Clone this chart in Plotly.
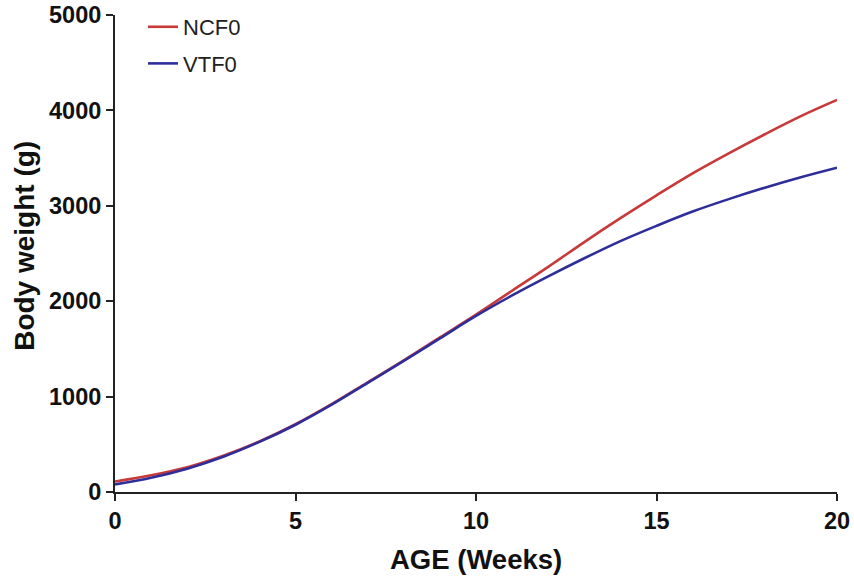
import plotly.graph_objects as go

weeks = list(range(0, 21))
ncf0 = [110, 175, 260, 380, 530, 710, 920, 1150, 1380, 1620, 1860, 2110, 2360,
        2620, 2870, 3110, 3340, 3550, 3750, 3940, 4110]
vtf0 = [80, 150, 245, 370, 525, 705, 915, 1145, 1375, 1610, 1845, 2060, 2260,
        2450, 2630, 2790, 2940, 3070, 3190, 3300, 3400]

x_ticks = [0, 5, 10, 15, 20]
y_ticks = [0, 1000, 2000, 3000, 4000, 5000]
x_title = "AGE (Weeks)"
y_title = "Body weight (g)"

fig = go.Figure()
fig.add_trace(go.Scatter(x=weeks, y=ncf0, mode="lines", name="NCF0", legendgroup="a",
                         line=dict(color="#C8393A", width=2.6, shape="spline")))
fig.add_trace(go.Scatter(x=weeks, y=vtf0, mode="lines", name="VTF0", legendgroup="b",
                         line=dict(color="#2E2E9A", width=2.6, shape="spline")))

font_family = "Liberation Sans, Arial, sans-serif"
axis_common = dict(ticks="outside", ticklen=7, tickwidth=2, tickcolor="#222",
                   showline=True, linecolor="#222", linewidth=2, showgrid=False,
                   zeroline=False, automargin=False, ticklabeloverflow="allow",
                   tickfont=dict(size=23.5, family=font_family, weight="bold", color="#111"))

fig.update_layout(
    width=854, height=580,
    margin=dict(l=115, r=17, t=15, b=88, autoexpand=False),
    paper_bgcolor="white", plot_bgcolor="white",
    font=dict(family=font_family, color="#111"),
    showlegend=True,
    legend=dict(x=0.0388, y=1.0189, xanchor="left", yanchor="top", tracegroupgap=5,
                font=dict(size=22, color="#222"), bgcolor="rgba(0,0,0,0)"),
    xaxis=dict(range=[0, 20], tickvals=x_ticks, **axis_common),
    yaxis=dict(range=[0, 5000], tickvals=y_ticks, **axis_common),
    annotations=[
        dict(text="<b>" + x_title + "</b>", xref="paper", yref="paper", x=0.5, y=-0.1405,
             xanchor="center", yanchor="middle", showarrow=False,
             font=dict(size=27.5, family=font_family, color="#111")),
        dict(text="<b>" + y_title + "</b>", xref="paper", yref="paper", x=-0.1247, y=0.516,
             xanchor="center", yanchor="middle", showarrow=False, textangle=-90,
             font=dict(size=28, family=font_family, color="#111")),
    ],
)

fig.write_html("out.html", config={"displayModeBar": False},
               post_script="document.body.style.margin='0';")
